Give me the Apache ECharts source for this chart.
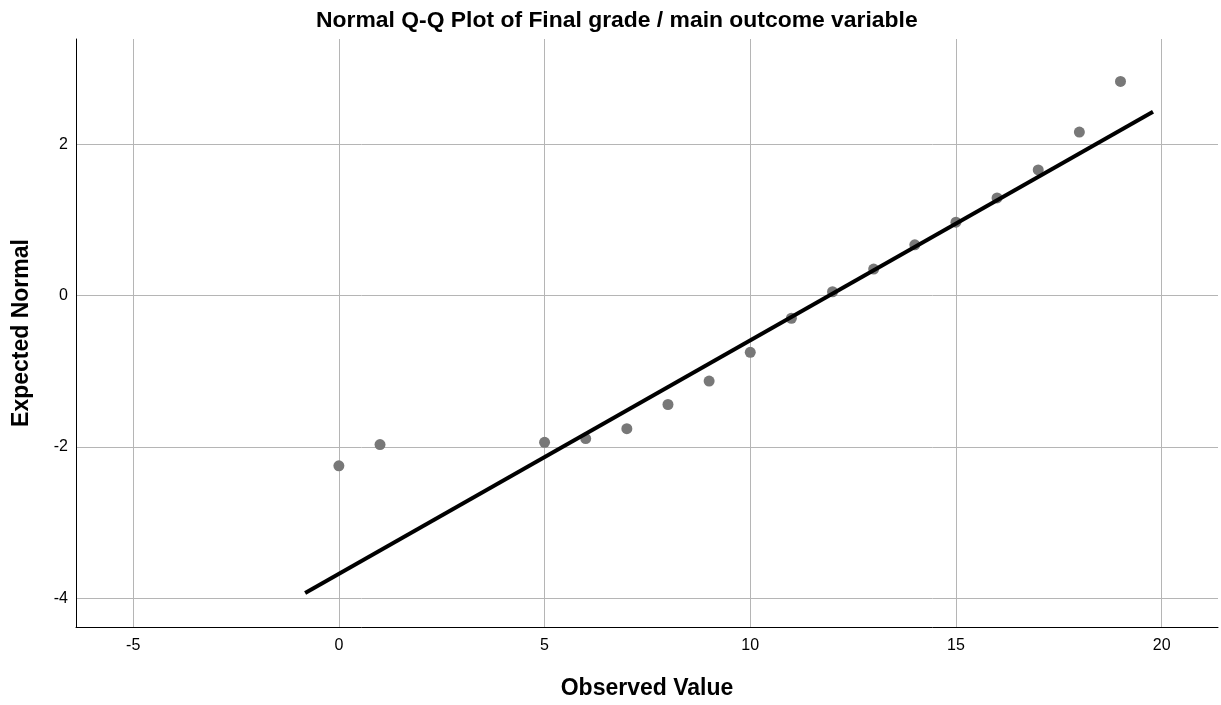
<!DOCTYPE html>
<html>
<head>
<meta charset="utf-8">
<script src="https://cdn.jsdelivr.net/npm/echarts@6/dist/echarts.min.js"></script>
<style>html,body{margin:0;padding:0;background:#fff}#c{width:1221px;height:705px}</style>
</head>
<body>
<div id="c"></div>
<script>
var observed = [0, 1, 5, 6, 7, 8, 9, 10, 11, 12, 13, 14, 15, 16, 17, 18, 19];
var expected = [-2.25, -1.97, -1.94, -1.89, -1.76, -1.44, -1.13, -0.75, -0.30, 0.05, 0.35, 0.67, 0.97, 1.29, 1.66, 2.16, 2.83];
var lineX = [-0.82, 19.79];
var lineY = [-3.93, 2.43];
var xRange = [-6.39, 21.37];
var yRange = [-4.38, 3.39];
var titleText = 'Normal Q-Q Plot of Final grade / main outcome variable';
var xName = 'Observed Value';
var yName = 'Expected Normal';

var pts = observed.map(function (v, i) { return [v, expected[i]]; });
var linePts = lineX.map(function (v, i) { return [v, lineY[i]]; });
var font = '"Liberation Sans", Arial, sans-serif';

var chart = echarts.init(document.getElementById('c'), null, { renderer: 'canvas' });
chart.setOption({
  animation: false,
  backgroundColor: '#fff',
  title: {
    text: titleText,
    left: 311, top: 4,
    textStyle: { fontFamily: font, fontSize: 22.9, fontWeight: 'bold', color: '#000' }
  },
  grid: { left: 76, right: 3, top: 39, bottom: 76, containLabel: false },
  xAxis: {
    type: 'value', min: xRange[0], max: xRange[1],
    splitNumber: 5, minInterval: 5, maxInterval: 5,
    name: xName, nameLocation: 'middle', nameGap: 50,
    nameTextStyle: { fontFamily: font, fontSize: 23, fontWeight: 'bold', color: '#000' },
    axisLine: { show: true, onZero: false, lineStyle: { color: '#000', width: 1 } },
    axisTick: { show: false },
    axisLabel: { fontFamily: font, fontSize: 16, color: '#000', margin: 11, showMinLabel: false, showMaxLabel: false },
    splitLine: { show: true, showMinLine: false, showMaxLine: false, lineStyle: { color: '#b5b5b5', width: 1 } }
  },
  yAxis: {
    type: 'value', min: yRange[0], max: yRange[1],
    splitNumber: 4, minInterval: 2, maxInterval: 2,
    name: yName, nameLocation: 'middle', nameGap: 43, nameRotate: 90,
    nameTextStyle: { fontFamily: font, fontSize: 23, fontWeight: 'bold', color: '#000' },
    axisLine: { show: true, onZero: false, lineStyle: { color: '#000', width: 1 } },
    axisTick: { show: false },
    axisLabel: { fontFamily: font, fontSize: 16, color: '#000', margin: 8, padding: [5, 0, 0, 0], showMinLabel: false, showMaxLabel: false },
    splitLine: { show: true, showMinLine: false, showMaxLine: false, lineStyle: { color: '#b5b5b5', width: 1 } }
  },
  series: [
    {
      type: 'scatter', data: pts, symbol: 'circle', symbolSize: 11,
      itemStyle: { color: '#787878', opacity: 1 }, z: 2
    },
    {
      type: 'line', data: linePts, showSymbol: false, symbol: 'none',
      lineStyle: { color: '#000', width: 4, cap: 'butt' }, z: 3
    }
  ]
});
</script>
</body>
</html>
